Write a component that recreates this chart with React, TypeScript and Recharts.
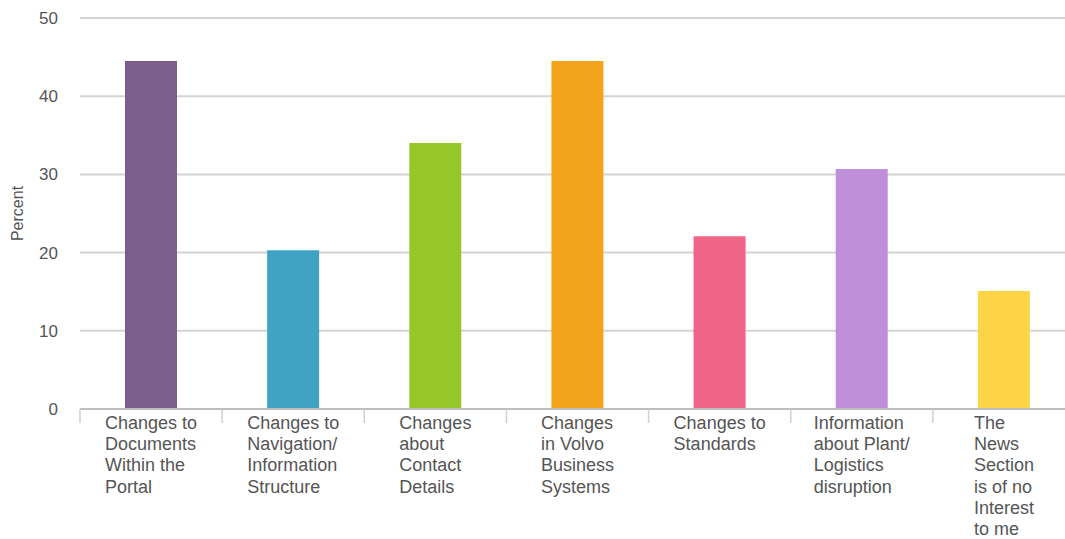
import React from 'react';
import { BarChart, Bar, XAxis, YAxis, CartesianGrid, Cell } from 'recharts';

const categories = [
  'Changes to Documents Within the Portal',
  'Changes to Navigation/ Information Structure',
  'Changes about Contact Details',
  'Changes in Volvo Business Systems',
  'Changes to Standards',
  'Information about Plant/ Logistics disruption',
  'The News Section is of no Interest to me',
];

const labelLines = [
  ['Changes to', 'Documents', 'Within the', 'Portal'],
  ['Changes to', 'Navigation/', 'Information', 'Structure'],
  ['Changes', 'about', 'Contact', 'Details'],
  ['Changes', 'in Volvo', 'Business', 'Systems'],
  ['Changes to', 'Standards'],
  ['Information', 'about Plant/', 'Logistics', 'disruption'],
  ['The', 'News', 'Section', 'is of no', 'Interest', 'to me'],
];

const values = [44.5, 20.3, 34.0, 44.5, 22.1, 30.7, 15.1];

const colors = ['#7b5e8c', '#41a3c3', '#95c828', '#f4a41a', '#f06587', '#bf8fdb', '#fdd445'];

const yTicks = [0, 10, 20, 30, 40, 50];

const CHART_W = 1082;
const CHART_H = 539;
const MARGIN = { top: 18, right: 7, bottom: 0, left: 0 };
const Y_W = 80;
const X_H = 130;
const PLOT_W = CHART_W - MARGIN.left - MARGIN.right - Y_W;
const BAND = PLOT_W / categories.length;

const FONT = '"Liberation Sans", Arial, sans-serif';
const X_FONT_SIZE = 18;
const LINE_H = 21.2;
const TEXT_COLOR = '#555555';

let ctx: CanvasRenderingContext2D | null = null;
function measure(s: string, size: number): number {
  if (!ctx) {
    const c = document.createElement('canvas');
    ctx = c.getContext('2d');
  }
  if (!ctx) return s.length * size * 0.5;
  ctx.font = `${size}px "Liberation Sans", Arial, sans-serif`;
  return ctx.measureText(s).width;
}

const data = categories.map((c, i) => ({ name: c, value: values[i] }));

function XTick(props: any) {
  const { x, y, payload } = props;
  const idx = categories.indexOf(payload.value);
  const lines = labelLines[idx] || [String(payload.value)];
  const maxW = Math.max(...lines.map((l) => measure(l, X_FONT_SIZE)));
  const left = x - maxW / 2;
  return (
    <g>
      <line x1={x - BAND / 2} x2={x - BAND / 2} y1={y} y2={y + 14} stroke="#d0d0d0" strokeWidth={1.5} />
      {idx === categories.length - 1 && (
        <line x1={x + BAND / 2} x2={x + BAND / 2} y1={y} y2={y + 14} stroke="#d0d0d0" strokeWidth={1.5} />
      )}
      <text x={left} y={y + 20} fill={TEXT_COLOR} fontSize={X_FONT_SIZE} fontFamily={FONT}>
        {lines.map((l, i) => (
          <tspan key={i} x={left} dy={i === 0 ? 0 : LINE_H}>
            {l}
          </tspan>
        ))}
      </text>
    </g>
  );
}

function YLabel(props: any) {
  const vb = props.viewBox || { x: 0, y: MARGIN.top, width: Y_W, height: 391 };
  const cx = vb.x + 17;
  const cy = vb.y + vb.height / 2;
  return (
    <text
      x={cx}
      y={cy}
      transform={`rotate(-90 ${cx} ${cy})`}
      textAnchor="middle"
      dominantBaseline="central"
      fill={TEXT_COLOR}
      fontSize={16}
      fontFamily={FONT}
    >
      Percent
    </text>
  );
}

export default function App() {
  return (
    <div
      style={{
        position: 'absolute',
        left: 0,
        top: 0,
        width: 1065,
        height: 539,
        overflow: 'hidden',
        background: '#ffffff',
      }}
    >
      <BarChart width={CHART_W} height={CHART_H} data={data} margin={MARGIN}>
        <CartesianGrid vertical={false} stroke="#d4d4d4" strokeWidth={2} />
        <XAxis
          dataKey="name"
          height={X_H}
          interval={0}
          tickLine={false}
          tickSize={0}
          tickMargin={0}
          axisLine={{ stroke: '#bdbdbd', strokeWidth: 2 }}
          tick={<XTick />}
        />
        <YAxis
          width={Y_W}
          domain={[0, 50]}
          ticks={yTicks}
          axisLine={false}
          tickLine={false}
          tickSize={6}
          tickMargin={16}
          tick={{ fill: TEXT_COLOR, fontSize: 17, fontFamily: FONT }}
          label={<YLabel />}
        />
        <Bar dataKey="value" barSize={52} isAnimationActive={false}>
          {data.map((d, i) => (
            <Cell key={d.name} fill={colors[i]} />
          ))}
        </Bar>
      </BarChart>
    </div>
  );
}
